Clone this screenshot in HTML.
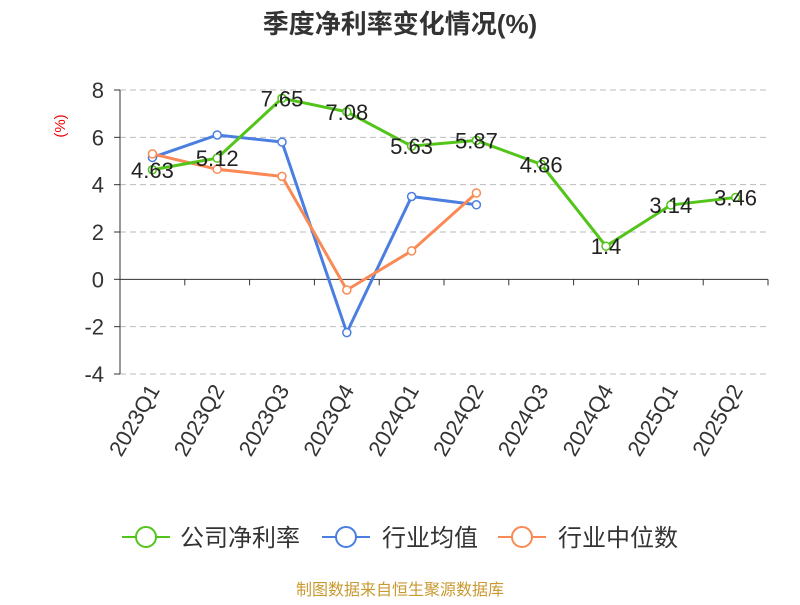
<!DOCTYPE html>
<html><head><meta charset="utf-8"><style>
body{margin:0;background:#fff;font-family:"Liberation Sans","Noto Sans CJK SC",sans-serif}
svg text{font-family:"Liberation Sans","Noto Sans CJK SC",sans-serif}
</style></head><body>
<svg id="chart" width="800" height="600" xmlns="http://www.w3.org/2000/svg">
<text x="400" y="33" text-anchor="middle" font-size="26" font-weight="bold" fill="#333">季度净利率变化情况(%)</text>
<text x="65" y="126" font-size="15" fill="#e00" transform="rotate(-90 65 126)" text-anchor="middle">(%)</text>
<g id="grid"></g><g id="axes"></g><g id="series"></g>
<g>
<g><line x1="122" y1="537" x2="170" y2="537" stroke="#52c41a" stroke-width="2"/><circle cx="146" cy="537" r="10" fill="#fff" stroke="#52c41a" stroke-width="2"/><text x="180" y="546" font-size="24" fill="#333">公司净利率</text></g>
<g><line x1="322" y1="537" x2="370" y2="537" stroke="#4a7ee0" stroke-width="2"/><circle cx="346" cy="537" r="10" fill="#fff" stroke="#4a7ee0" stroke-width="2"/><text x="382" y="546" font-size="24" fill="#333">行业均值</text></g>
<g><line x1="498" y1="537" x2="546" y2="537" stroke="#f98a55" stroke-width="2"/><circle cx="522" cy="537" r="10" fill="#fff" stroke="#f98a55" stroke-width="2"/><text x="558" y="546" font-size="24" fill="#333">行业中位数</text></g>
</g>
<text x="400" y="595" text-anchor="middle" font-size="16" fill="#c89a30">制图数据来自恒生聚源数据库</text>
</svg>
<script>
const categories=["2023Q1","2023Q2","2023Q3","2023Q4","2024Q1","2024Q2","2024Q3","2024Q4","2025Q1","2025Q2"];
const companyValues=[4.63,5.12,7.65,7.08,5.63,5.87,4.86,1.4,3.14,3.46];
const industryAvg=[5.15,6.1,5.8,-2.25,3.5,3.15];
const industryMedian=[5.3,4.65,4.35,-0.45,1.2,3.65];
const yTicks=[-4,-2,0,2,4,6,8];
const NS="http://www.w3.org/2000/svg";
const X0=120,X1=768,Ytop=90,Ybot=374,ymin=-4,ymax=8;
const bw=(X1-X0)/categories.length;
const xs=i=>X0+bw*(i+0.5);
const ys=v=>Ybot-(v-ymin)/(ymax-ymin)*(Ybot-Ytop);
function mk(tag,attrs,parent){const e=document.createElementNS(NS,tag);for(const k in attrs)e.setAttribute(k,attrs[k]);parent.appendChild(e);return e;}
const grid=document.getElementById('grid'),axes=document.getElementById('axes'),ser=document.getElementById('series');
yTicks.forEach(t=>{
 if(t!==0){const l=mk('line',{x1:X0,x2:X1,y1:ys(t),y2:ys(t),stroke:'#bbb','stroke-dasharray':'6,4'},grid);
 
 }
 const tx=mk('text',{x:X0-16,y:ys(t)+8,'text-anchor':'end','font-size':22,fill:'#333'},axes);tx.textContent=t;
 
 
 mk('line',{x1:X0-6,x2:X0,y1:ys(t),y2:ys(t),stroke:'#333'},axes);
});
const ya=mk('line',{x1:X0,x2:X0,y1:Ytop,y2:Ybot,stroke:'#333'},axes);


const xa=mk('line',{x1:X0,x2:X1,y1:ys(0),y2:ys(0),stroke:'#333'},axes);


categories.forEach((c,i)=>{
 mk('line',{x1:X0+bw*(i+1),x2:X0+bw*(i+1),y1:ys(0),y2:ys(0)+6,stroke:'#333'},axes);
 const x=xs(i)+8,y=390;
 const t=mk('text',{x:x,y:y,'text-anchor':'end','font-size':22,fill:'#333',transform:`rotate(-60 ${x} ${y})`},axes);t.textContent=c;
 
 
});
function series(vals,color,name,labels){
 const p=mk('polyline',{points:vals.map((v,i)=>xs(i)+','+ys(v)).join(' '),fill:'none',stroke:color,'stroke-width':3},ser);
 
 
 vals.forEach((v,i)=>{
  const c=mk('circle',{cx:xs(i),cy:ys(v),r:4,fill:'#fff',stroke:color,'stroke-width':1.5},ser);
  
  
  if(labels){const t=mk('text',{x:xs(i),y:ys(v)+8,'text-anchor':'middle','font-size':22,fill:'#222'},ser);t.textContent=v;
  
  }
 });
}
series(industryAvg,'#4a7ee0','industry-avg',false);
series(industryMedian,'#f98a55','industry-median',false);
series(companyValues,'#52c41a','company',true);
</script>
</body></html>
